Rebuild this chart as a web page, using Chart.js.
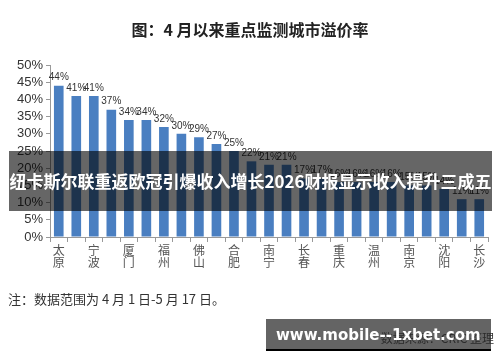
<!DOCTYPE html>
<html>
<head>
<meta charset="utf-8">
<script src="https://cdn.jsdelivr.net/npm/chart.js@4"></script>
<style>
  html, body { margin: 0; padding: 0; background: #fff; }
  #wrap { position: relative; width: 500px; height: 362px; overflow: hidden; font-family: 'Noto Sans CJK SC', sans-serif; }
  #chart { position: absolute; left: 0; top: 0; }
  .title { position: absolute; left: 0; top: 17px; width: 500px; text-align: center; font-size: 16px; font-weight: 700; color: #222; }
  .note { position: absolute; left: 8px; top: 289px; font-size: 13px; color: #333; }
  .source { position: absolute; right: 6px; top: 329px; font-size: 12px; color: #333; }
  .banner { position: absolute; left: 9px; top: 151px; width: 483px; height: 60px; background: rgba(0,0,0,0.6);
            color: #fff; font-size: 17px; font-weight: 700; line-height: 60px; text-align: center; white-space: nowrap; }
  .mark { position: absolute; left: 266px; top: 319px; width: 225px; height: 32px; background: rgba(40,40,40,0.72);
          border-bottom: 2px solid #000; color: #fff; font-family: 'DejaVu Sans', sans-serif; font-weight: 700;
          font-size: 15px; line-height: 32px; padding-left: 10px; box-sizing: border-box; white-space: nowrap; }
</style>
</head>
<body>
<div id="wrap">
  <canvas id="chart" width="500" height="362"></canvas>
  <div class="title">图：4 月以来重点监测城市溢价率</div>
  <div class="note">注：数据范围为 4 月 1 日-5 月 17 日。</div>
  <div class="source">数据来源：CRIC 整理</div>
  <div class="banner">纽卡斯尔联重返欧冠引爆收入增长2026财报显示收入提升三成五</div>
  <div class="mark">www.mobile--1xbet.com</div>
</div>
<script>
// 25 cities, only every other one is labelled in the source picture
const cities = [
  ['太', '原'], '', ['宁', '波'], '', ['厦', '门'], '', ['福', '州'], '', ['佛', '山'], '',
  ['合', '肥'], '', ['南', '宁'], '', ['长', '春'], '', ['重', '庆'], '', ['温', '州'], '',
  ['南', '京'], '', ['沈', '阳'], '', ['长', '沙']
];
const premium = [44, 41, 41, 37, 34, 34, 32, 30, 29, 27, 25, 22, 21, 21, 17, 17, 16, 16, 16, 16, 15, 15, 14, 11, 11];
const yTicks = [0, 5, 10, 15, 20, 25, 30, 35, 40, 45, 50];

const barLabels = {
  id: 'barLabels',
  afterDatasetsDraw(chart) {
    const { ctx } = chart;
    const meta = chart.getDatasetMeta(0);
    ctx.save();
    ctx.font = '10px "Liberation Sans", Arial, sans-serif';
    ctx.fillStyle = '#333';
    ctx.textAlign = 'center';
    ctx.textBaseline = 'bottom';
    meta.data.forEach((bar, i) => {
      ctx.fillText(premium[i] + '%', bar.x, bar.y - 3);
    });
    ctx.restore();
  }
};

new Chart(document.getElementById('chart').getContext('2d'), {
  type: 'bar',
  data: {
    labels: cities,
    datasets: [{
      data: premium,
      backgroundColor: '#4a7fc1',
      barPercentage: 0.55,
      categoryPercentage: 1.0
    }]
  },
  options: {
    responsive: false,
    animation: false,
    layout: { padding: { top: 65, left: 8, right: 12, bottom: 60 } },
    plugins: { legend: { display: false }, tooltip: { enabled: false } },
    scales: {
      x: {
        offset: true,
        grid: { offset: true, drawOnChartArea: false, tickLength: 5, color: '#999' },
        border: { color: '#999' },
        ticks: {
          autoSkip: false, maxRotation: 0, color: '#555', padding: 2,
          font: { size: 12, family: 'Noto Sans CJK SC', lineHeight: 1.05 }
        },
        afterFit: s => { s.height = 65; }
      },
      y: {
        min: 0, max: 50,
        afterBuildTicks: s => { s.ticks = yTicks.map(v => ({ value: v })); },
        grid: { drawOnChartArea: false, tickLength: 4, color: '#999' },
        border: { color: '#999' },
        ticks: {
          autoSkip: false, color: '#333', padding: 3,
          font: { size: 13, family: 'Liberation Sans' },
          callback: v => v + '%'
        },
        afterFit: s => { s.width = 42; }
      }
    }
  },
  plugins: [barLabels]
});
</script>
</body>
</html>
